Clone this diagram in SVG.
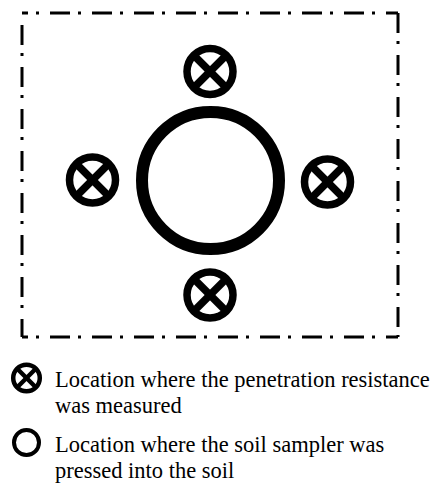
<svg xmlns="http://www.w3.org/2000/svg" width="439" height="485" viewBox="0 0 439 485">
<style>
.bd{fill:none;stroke:#000;stroke-width:3;stroke-dasharray:20 8 3 11}
.t{font-family:"Liberation Serif",serif;font-size:22.5px;fill:#000}
</style>
<defs>
<g id="px">
<circle cx="0" cy="0" r="23" fill="none" stroke="#000" stroke-width="7.5"/>
<line x1="-15" y1="-15" x2="15" y2="15" stroke="#000" stroke-width="7.5"/>
<line x1="15" y1="-15" x2="-15" y2="15" stroke="#000" stroke-width="7.5"/>
</g>
</defs>
<g id="border">
<line class="bd" x1="22" y1="13" x2="398" y2="13" style="stroke-dashoffset:-28"/>
<line class="bd" x1="22" y1="25" x2="22" y2="337"/>
<line class="bd" x1="398" y1="13" x2="398" y2="337"/>
<line class="bd" x1="22" y1="337" x2="398" y2="337" style="stroke-dashoffset:-28"/>
</g>
<g id="sampler"><circle cx="210.5" cy="180.5" r="68.5" fill="none" stroke="#000" stroke-width="12"/></g>
<g id="p-top"><use href="#px" x="210" y="71.5"/></g>
<g id="p-left"><use href="#px" x="92.5" y="180"/></g>
<g id="p-right"><use href="#px" x="327.5" y="182"/></g>
<g id="p-bottom"><use href="#px" x="210" y="295"/></g>
<g id="connectors"></g>
<g id="legend">
<g transform="translate(26.5,378)">
<circle cx="0" cy="0" r="13.3" fill="none" stroke="#000" stroke-width="4.5"/>
<line x1="-8.5" y1="-8.5" x2="8.5" y2="8.5" stroke="#000" stroke-width="4.5"/>
<line x1="8.5" y1="-8.5" x2="-8.5" y2="8.5" stroke="#000" stroke-width="4.5"/>
</g>
<circle cx="26.5" cy="442.5" r="12.5" fill="none" stroke="#000" stroke-width="4"/>
<text class="t" x="55" y="387">Location where the penetration resistance</text>
<text class="t" x="55" y="413">was measured</text>
<text class="t" x="55" y="452">Location where the soil sampler was</text>
<text class="t" x="55" y="478">pressed into the soil</text>
</g>
</svg>
